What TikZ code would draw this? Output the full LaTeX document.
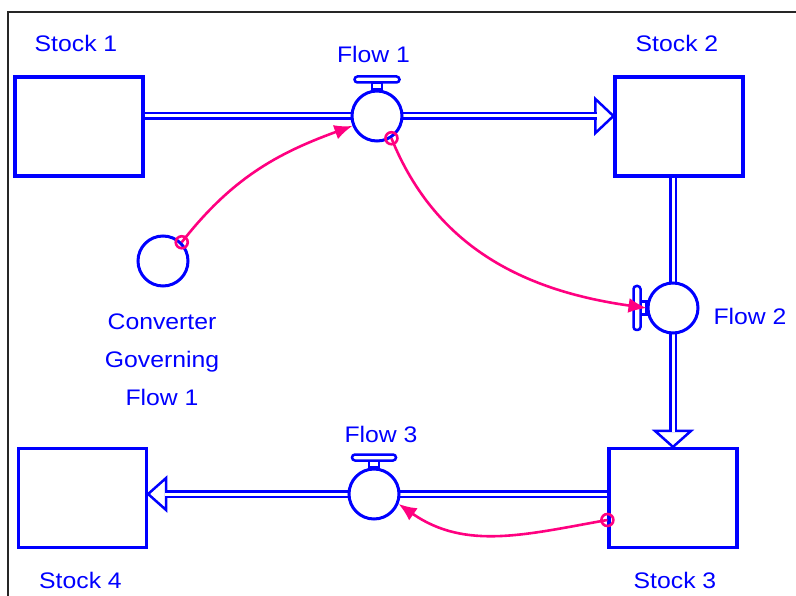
\documentclass[tikz,border=0pt]{standalone}
\usepackage{fontspec}
\setmainfont[FakeStretch=1.1]{Liberation Sans}
\usetikzlibrary{arrows.meta,calc}
\definecolor{sdblue}{RGB}{0,0,255}
\definecolor{sdpink}{RGB}{255,0,128}
\begin{document}
\begin{tikzpicture}[x=1pt,y=1pt,
  stock/.style={draw=sdblue, line width=3.2pt, minimum width=128pt, minimum height=99pt, inner sep=0pt, fill=white},
  flow/.style={circle, draw=sdblue, line width=3pt, minimum size=50pt, inner sep=0pt, fill=white},
  pipe/.style={draw=sdblue, line width=2.5pt, double=white, double distance=3pt},
  head/.style={draw=sdblue, line width=2.5pt, fill=white, line join=miter},
  valve/.style={draw=sdblue, line width=2.5pt, fill=white},
  link/.style={draw=sdpink, line width=2.6pt, -{Latex[length=18pt,width=15pt]}},
  ring/.style={circle, draw=sdpink, line width=2.6pt, minimum size=12pt, inner sep=0pt},
  lbl/.style={text=sdblue, font=\fontsize{22.5}{38}\selectfont, inner sep=0pt, anchor=base}]
\useasboundingbox (0,0) rectangle (796,-596);
% frame
\draw[line width=2.5pt, black!85] (8,-596) -- (8,-12) -- (796,-12);
% stocks
\node[stock] (s1) at (79,-126.5) {};
\node[stock] (s2) at (679,-126.5) {};
\node[stock] (s3) at (673,-498) {};
\node[stock] (s4) at (82.5,-498) {};
% flow positions
\coordinate (f1c) at (377,-116);
\coordinate (f2c) at (673,-308);
\coordinate (f3c) at (374,-494);
% arrowheads and pipes
\coordinate (t1) at (s2.west |- f1c);
\draw[head] (t1) -- ++(-18,17) -- ++(0,-34) -- cycle;
\draw[pipe] (s1.east |- f1c) -- ($(t1)+(-16.5,0)$);
\coordinate (t2) at (s3.north -| f2c);
\draw[head] (t2) -- ++(-18,16) -- ++(36,0) -- cycle;
\draw[pipe] (s2.south -| f2c) -- ($(t2)+(0,14.5)$);
\coordinate (t3) at (s4.east |- f3c);
\draw[head] (t3) -- ++(18,16) -- ++(0,-32) -- cycle;
\draw[pipe] (s3.west |- f3c) -- ($(t3)+(16.5,0)$);
% flows
\node[flow] (f1) at (f1c) {};
\node[flow] (f2) at (f2c) {};
\node[flow] (f3) at (f3c) {};
\node[flow] (conv) at (163,-261) {};
% valves
\draw[valve] ($(f1.north)+(-5,0)$) rectangle ($(f1.north)+(5,7)$);
\draw[valve, rounded corners=3pt] ($(f1.north)+(-22.5,7)$) rectangle ($(f1.north)+(22.5,13)$);
\draw[valve] ($(f3.north)+(-5,0)$) rectangle ($(f3.north)+(5,7)$);
\draw[valve, rounded corners=3pt] ($(f3.north)+(-22,7)$) rectangle ($(f3.north)+(22,13)$);
\draw[valve] ($(f2.west)+(0,-6.5)$) rectangle ($(f2.west)+(-6,6.5)$);
\draw[valve, rounded corners=3pt] ($(f2.west)+(-6,-22)$) rectangle ($(f2.west)+(-13,22)$);
% connectors
\coordinate (c3s) at ([yshift=-22pt]s3.west);
\draw[link] (conv.45) to[out=52,in=200] (f1.202);
\draw[link] (f1.-57) to[out=-68,in=172] (f2.west);
\draw[link] (c3s) to[out=190,in=-35] (f3.-22);
\node[ring] (r1) at (conv.45) {};
\node[ring] (r2) at (f1.-57) {};
\node[ring] (r3) at (c3s) {};
% labels
\node[lbl] (ls1) at (76,-52) {Stock 1};
\node[lbl] (ls2) at (677,-52) {Stock 2};
\node[lbl] (ls3) at (675,-588) {Stock 3};
\node[lbl] (ls4) at (80.5,-588) {Stock 4};
\node[lbl] (lf1) at (373.5,-63) {Flow 1};
\node[lbl] (lf2) at (750,-325) {Flow 2};
\node[lbl] (lf3) at (381,-442) {Flow 3};
\node[lbl, align=center, anchor=north] (lconv) at (162,-314) {Converter\\Governing\\Flow 1};
\end{tikzpicture}
\end{document}
